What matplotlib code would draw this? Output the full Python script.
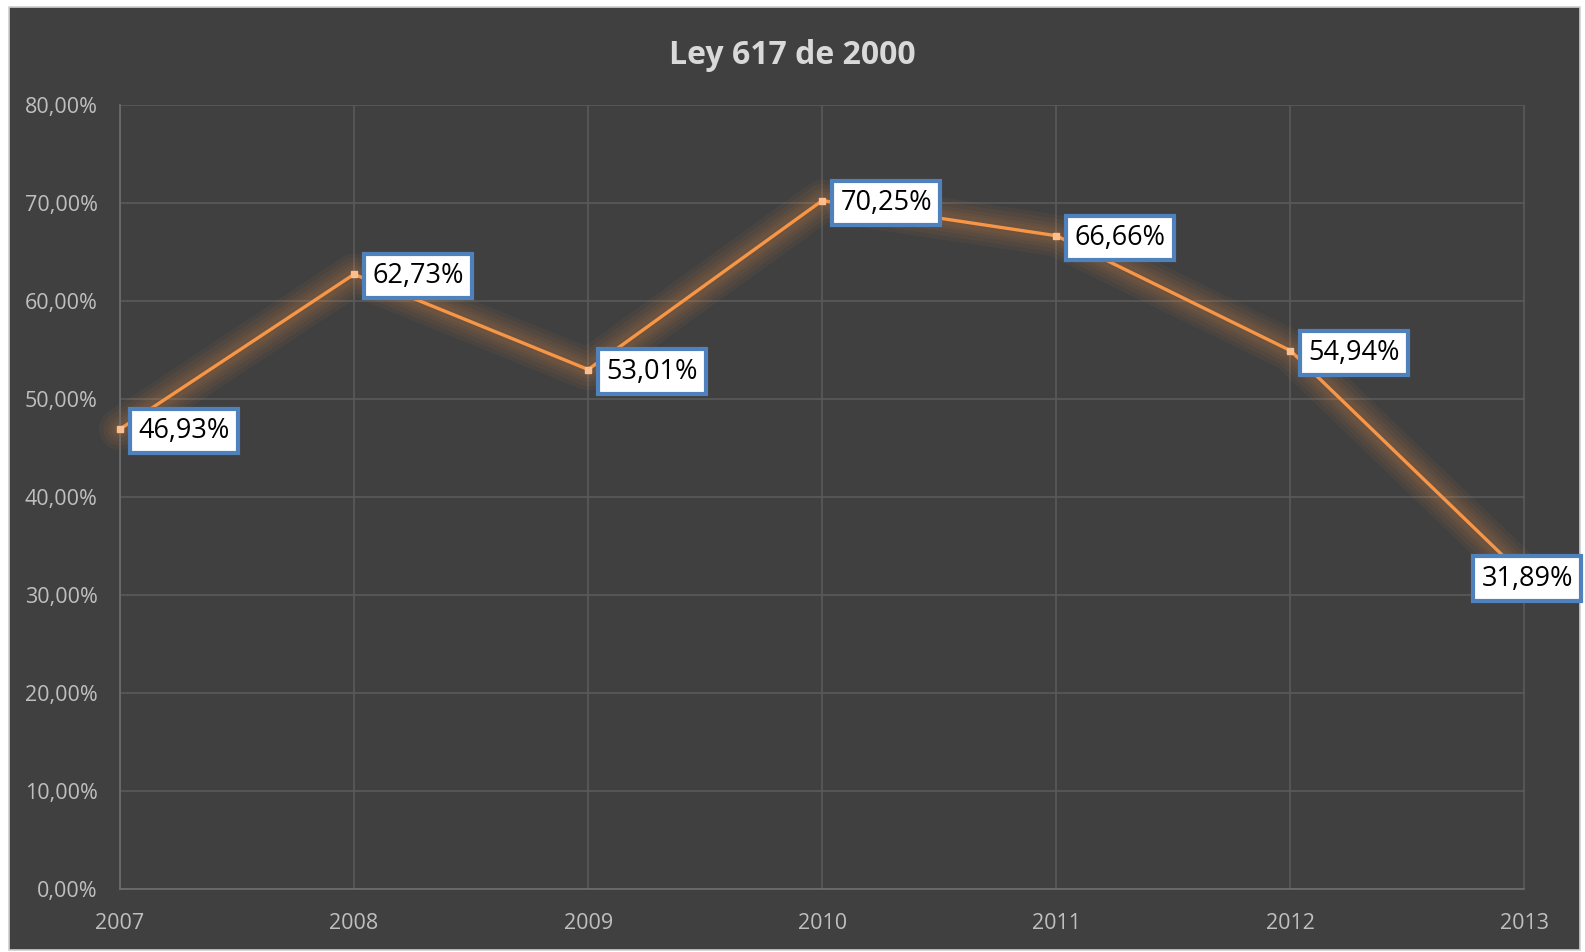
import matplotlib.pyplot as plt
from matplotlib.patches import Rectangle
from matplotlib.ticker import FuncFormatter

years = [2007, 2008, 2009, 2010, 2011, 2012, 2013]
values = [46.93, 62.73, 53.01, 70.25, 66.66, 54.94, 31.89]
labels = ['46,93%', '62,73%', '53,01%', '70,25%', '66,66%', '54,94%', '31,89%']

plt.rcParams['font.family'] = ['Open Sans', 'DejaVu Sans']

bg = '#404040'
orange = '#f79646'

fig = plt.figure(figsize=(15.85, 9.52), dpi=100)
fig.patch.set_facecolor('white')
fig.patches.append(Rectangle((9 / 1585, 1 - 950 / 952), 1571 / 1585, 943 / 952,
                             transform=fig.transFigure, facecolor=bg,
                             edgecolor='#d0d0d0', lw=1.2, zorder=-10))

ax = fig.add_axes([120 / 1585, 1 - 889 / 952, 1404.5 / 1585, 784 / 952])
ax.set_facecolor(bg)
ax.set_xlim(2007, 2013)
ax.set_ylim(0, 80)
ax.set_yticks(range(0, 81, 10))
ax.set_xticks(years)
ax.yaxis.set_major_formatter(FuncFormatter(lambda v, p: f'{v:.2f}'.replace('.', ',') + '%'))
ax.grid(True, color='#5a5a5a', lw=1.2)
ax.set_axisbelow(True)
for s in ['top', 'right']:
    ax.spines[s].set_visible(False)
for s in ['left', 'bottom']:
    ax.spines[s].set_color('#6e6e6e')
    ax.spines[s].set_linewidth(1.2)
ax.tick_params(length=0, colors='#bfbfbf', labelsize=15.5)
ax.tick_params(axis='y', pad=16)
ax.tick_params(axis='x', pad=17)

# glow
for w in [30, 24, 18, 13, 9]:
    ax.plot(years, values, color=orange, lw=w, alpha=0.055, solid_joinstyle='round',
            solid_capstyle='round', clip_on=False, zorder=2)
ax.plot(years, values, color=orange, lw=2.4, clip_on=False, zorder=3)
ax.plot(years, values, ls='none', marker='s', ms=5, color='#fbbf8f', mec='#fbbf8f',
        clip_on=False, zorder=4)

for i, (x, y, t) in enumerate(zip(years, values, labels)):
    dx = -31 if i == len(years) - 1 else 13
    ax.annotate(t, (x, y), xytext=(dx, -1.5), textcoords='offset points',
                ha='left', va='center', fontsize=19.5, color='black', zorder=5,
                bbox=dict(boxstyle='square,pad=0.3', fc='white', ec='#4f81bd', lw=3),
                annotation_clip=False)

fig.text(0.5, 1 - 55 / 952, 'Ley 617 de 2000', ha='center', va='center',
         fontsize=23, fontweight='bold', color='#d9d9d9')

fig.savefig('out.png', dpi=100, facecolor=fig.get_facecolor())
